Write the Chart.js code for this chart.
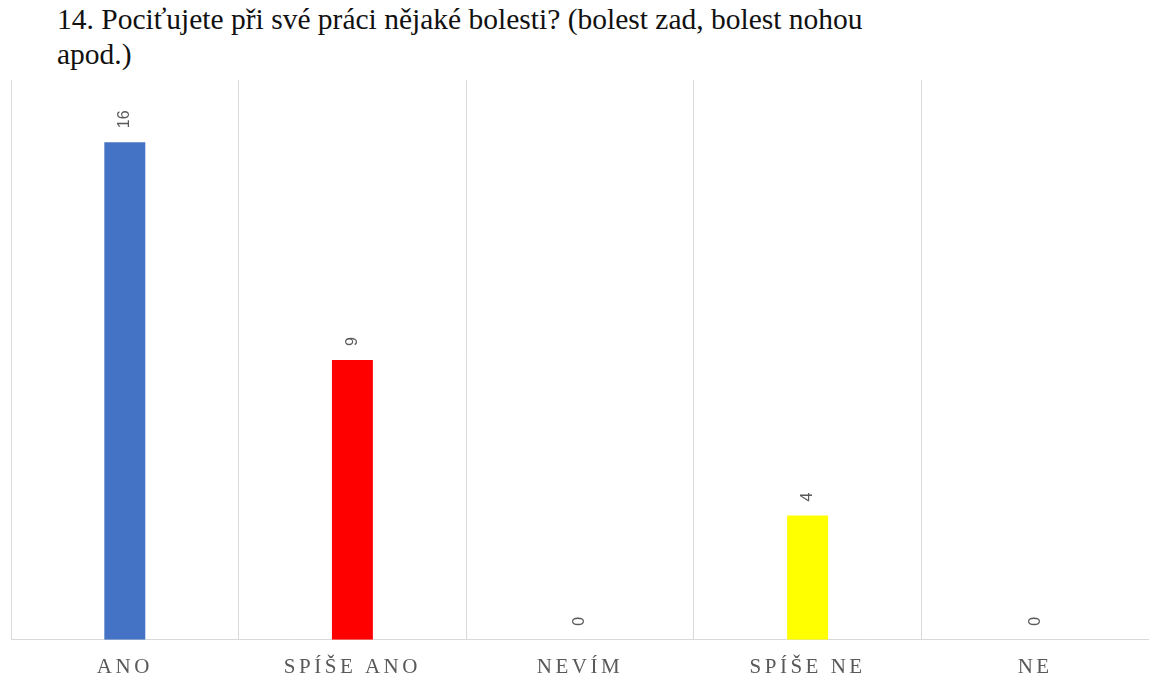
<!DOCTYPE html>
<html>
<head>
<meta charset="utf-8">
<script src="https://cdn.jsdelivr.net/npm/chart.js@4"></script>
<style>
  body { margin: 0; background: #fff; }
  #wrap { position: relative; width: 1149px; height: 679px; }
  #title {
    position: absolute; left: 57px; top: 2px;
    font-family: "Liberation Serif", "Times New Roman", serif;
    font-size: 29.5px; line-height: 35px;
    color: #111; width: 880px;
  }
  canvas { position: absolute; left: 0; top: 0; }
</style>
</head>
<body>
<div id="wrap">
  <div id="title">14. Pociťujete při své práci nějaké bolesti? (bolest zad, bolest nohou<br>apod.)</div>
  <canvas id="myChart" width="1149" height="679"></canvas>
</div>
<script>
const categories = ["ANO", "SPÍŠE ANO", "NEVÍM", "SPÍŠE NE", "NE"];
const answers = [16, 9, 0, 4, 0];
const barColors = ["#4472c4", "#ff0000", "#a5a5a5", "#ffff00", "#5b9bd5"];

const serif = "'Liberation Serif', 'Times New Roman', serif";

// letter spacing for the category labels (canvas supports it in chrome)
const spacing = {
  id: "spacing",
  beforeDraw(chart) { chart.ctx.letterSpacing = "3.5px"; },
  beforeDatasetsDraw(chart) { chart.ctx.letterSpacing = "0px"; },
};

// rotated value labels above each bar
const valueLabels = {
  id: "valueLabels",
  afterDatasetsDraw(chart) {
    const ctx = chart.ctx;
    const meta = chart.getDatasetMeta(0);
    ctx.save();
    ctx.fillStyle = "#595959";
    ctx.font = "16px 'Liberation Sans', sans-serif";
    ctx.textAlign = "left";
    ctx.textBaseline = "middle";
    meta.data.forEach((bar, i) => {
      ctx.save();
      ctx.translate(bar.x, bar.y - 14);
      ctx.rotate(-Math.PI / 2);
      ctx.fillText(String(answers[i]), 0, 0);
      ctx.restore();
    });
    ctx.restore();
  },
};

const data = {
  labels: categories,
  datasets: [
    {
      data: answers,
      backgroundColor: barColors,
      borderWidth: 0,
      categoryPercentage: 1,
      barPercentage: 0.18,
    },
  ],
};

const config = {
  type: "bar",
  data: data,
  options: {
    responsive: false,
    animation: false,
    layout: { padding: { left: 11, right: 0, top: 80, bottom: -16 } },
    plugins: {
      legend: { display: false },
      tooltip: { enabled: false },
    },
    scales: {
      x: {
        grid: { color: "#d9d9d9", lineWidth: 1, drawTicks: false, offset: true },
        border: { color: "#d9d9d9", width: 1 },
        ticks: {
          color: "#595959",
          padding: 15,
          font: { family: serif, size: 21 },
        },
      },
      y: {
        display: false,
        min: 0,
        max: 18,
      },
    },
  },
  plugins: [spacing, valueLabels],
};

new Chart(document.getElementById("myChart"), config);
</script>
</body>
</html>
